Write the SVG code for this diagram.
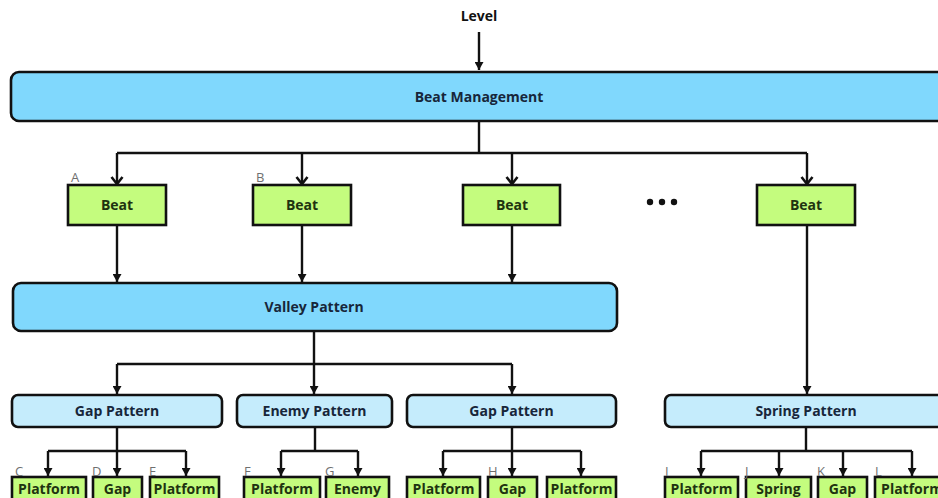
<svg xmlns="http://www.w3.org/2000/svg" width="938" height="498" viewBox="0 0 938 498">
<defs>
<style>
.t{font-family:"Open Sans","Liberation Sans",sans-serif;font-weight:bold;font-size:14px;text-anchor:middle}
.tb{fill:#17263a}
.tg{fill:#1e3310}
.lbl{font-family:"Open Sans","Liberation Sans",sans-serif;font-size:13px;fill:#6f6f6f}
.big{fill:#80d8fd;stroke:#111;stroke-width:2.6}
.pat{fill:#c5ecfc;stroke:#111;stroke-width:2.6}
.grn{fill:#c4fc7e;stroke:#111;stroke-width:2.6}
.c{fill:none;stroke:#111;stroke-width:2.4}
</style>
<marker id="v" viewBox="0 0 14 14" refX="7" refY="12" markerWidth="14" markerHeight="14" markerUnits="userSpaceOnUse">
<path d="M1.5,5 L7,12 L12.5,5" fill="none" stroke="#111" stroke-width="2.6"/>
</marker>
<marker id="f" viewBox="0 0 10 10" refX="5" refY="10" markerWidth="9" markerHeight="9" markerUnits="userSpaceOnUse">
<path d="M0,1 L5,10 L10,1 Z" fill="#111"/>
</marker>
</defs>
<rect width="938" height="498" fill="#fff"/>

<g id="connectors">
<path class="c" d="M479,32 V70" marker-end="url(#f)"/>
<path class="c" d="M479,121 V153"/>
<path class="c" d="M117,153 H807"/>
<path class="c" d="M117,153 V184" marker-end="url(#v)"/>
<path class="c" d="M302,153 V184" marker-end="url(#v)"/>
<path class="c" d="M512,153 V184" marker-end="url(#v)"/>
<path class="c" d="M807,153 V184" marker-end="url(#v)"/>
<path class="c" d="M117,225 V282" marker-end="url(#f)"/>
<path class="c" d="M302,225 V282" marker-end="url(#f)"/>
<path class="c" d="M512,225 V282" marker-end="url(#f)"/>
<path class="c" d="M807,225 V394" marker-end="url(#f)"/>
<path class="c" d="M314,331 V364 M117,364 H512"/>
<path class="c" d="M117,364 V394" marker-end="url(#f)"/>
<path class="c" d="M314,364 V394" marker-end="url(#f)"/>
<path class="c" d="M512,364 V394" marker-end="url(#f)"/>
<path class="c" d="M117,427 V451 M48,451 H186"/>
<path class="c" d="M48,451 V476" marker-end="url(#f)"/>
<path class="c" d="M117,451 V476" marker-end="url(#f)"/>
<path class="c" d="M186,451 V476" marker-end="url(#f)"/>
<path class="c" d="M315,427 V451 M281,451 H358"/>
<path class="c" d="M281,451 V476" marker-end="url(#f)"/>
<path class="c" d="M358,451 V476" marker-end="url(#f)"/>
<path class="c" d="M512,427 V451 M443,451 H581"/>
<path class="c" d="M443,451 V476" marker-end="url(#f)"/>
<path class="c" d="M512,451 V476" marker-end="url(#f)"/>
<path class="c" d="M581,451 V476" marker-end="url(#f)"/>
<path class="c" d="M806,427 V451 M701,451 H912"/>
<path class="c" d="M701,451 V476" marker-end="url(#f)"/>
<path class="c" d="M779,451 V476" marker-end="url(#f)"/>
<path class="c" d="M843,451 V476" marker-end="url(#f)"/>
<path class="c" d="M912,451 V476" marker-end="url(#f)"/>
</g>

<g id="level"><text class="t" x="479" y="21" fill="#111">Level</text></g>

<g id="beat-management">
<rect class="big" x="11" y="72" width="945" height="49" rx="8"/>
<text class="t tb" x="479" y="102">Beat Management</text>
</g>

<g id="beat-a">
<rect class="grn" x="68" y="185" width="98" height="40"/>
<text class="t tg" x="117" y="210">Beat</text>
<text class="lbl" x="71" y="182">A</text>
</g>
<g id="beat-b">
<rect class="grn" x="253" y="185" width="98" height="40"/>
<text class="t tg" x="302" y="210">Beat</text>
<text class="lbl" x="256" y="182">B</text>
</g>
<g id="beat-c">
<rect class="grn" x="463" y="185" width="97" height="40"/>
<text class="t tg" x="512" y="210">Beat</text>
</g>
<g id="ellipsis">
<circle cx="650" cy="202" r="3.2" fill="#111"/>
<circle cx="662" cy="202" r="3.2" fill="#111"/>
<circle cx="674" cy="202" r="3.2" fill="#111"/>
</g>
<g id="beat-d">
<rect class="grn" x="757" y="185" width="98" height="40"/>
<text class="t tg" x="806" y="210">Beat</text>
</g>

<g id="valley-pattern">
<rect class="big" x="13" y="283" width="604" height="48" rx="8"/>
<text class="t tb" x="314" y="312">Valley Pattern</text>
</g>

<g id="gap-pattern-1">
<rect class="pat" x="12" y="395" width="210" height="32" rx="6"/>
<text class="t tb" x="117" y="416">Gap Pattern</text>
</g>
<g id="enemy-pattern">
<rect class="pat" x="237" y="395" width="155" height="32" rx="6"/>
<text class="t tb" x="314.5" y="416">Enemy Pattern</text>
</g>
<g id="gap-pattern-2">
<rect class="pat" x="407" y="395" width="209" height="32" rx="6"/>
<text class="t tb" x="511.5" y="416">Gap Pattern</text>
</g>
<g id="spring-pattern">
<rect class="pat" x="665" y="395" width="290" height="32" rx="6"/>
<text class="t tb" x="806" y="416">Spring Pattern</text>
</g>

<g id="c-platform"><rect class="grn" x="12" y="477" width="74" height="40"/><text class="t tg" x="49" y="494">Platform</text><text class="lbl" x="15" y="476">C</text></g>
<g id="d-gap"><rect class="grn" x="93" y="477" width="49" height="40"/><text class="t tg" x="117.5" y="494">Gap</text><text class="lbl" x="92" y="476">D</text></g>
<g id="e-platform"><rect class="grn" x="150" y="477" width="69" height="40"/><text class="t tg" x="184.5" y="494">Platform</text><text class="lbl" x="149" y="476">E</text></g>
<g id="f-platform"><rect class="grn" x="244" y="477" width="76" height="40"/><text class="t tg" x="282" y="494">Platform</text><text class="lbl" x="244" y="476">F</text></g>
<g id="g-enemy"><rect class="grn" x="326" y="477" width="63" height="40"/><text class="t tg" x="357.5" y="494">Enemy</text><text class="lbl" x="325" y="476">G</text></g>
<g id="platform-2"><rect class="grn" x="407" y="477" width="73" height="40"/><text class="t tg" x="443.5" y="494">Platform</text></g>
<g id="h-gap"><rect class="grn" x="488" y="477" width="49" height="40"/><text class="t tg" x="512.5" y="494">Gap</text><text class="lbl" x="488" y="476">H</text></g>
<g id="platform-3"><rect class="grn" x="547" y="477" width="69" height="40"/><text class="t tg" x="581.5" y="494">Platform</text></g>
<g id="i-platform"><rect class="grn" x="665" y="477" width="73" height="40"/><text class="t tg" x="701.5" y="494">Platform</text><text class="lbl" x="665" y="476">I</text></g>
<g id="j-spring"><rect class="grn" x="746" y="477" width="65" height="40"/><text class="t tg" x="778.5" y="494">Spring</text><text class="lbl" x="745" y="476">J</text></g>
<g id="k-gap"><rect class="grn" x="818" y="477" width="49" height="40"/><text class="t tg" x="842.5" y="494">Gap</text><text class="lbl" x="817" y="476">K</text></g>
<g id="l-platform"><rect class="grn" x="875" y="477" width="80" height="40"/><text class="t tg" x="912" y="494">Platform</text><text class="lbl" x="875" y="476">L</text></g>
</svg>
